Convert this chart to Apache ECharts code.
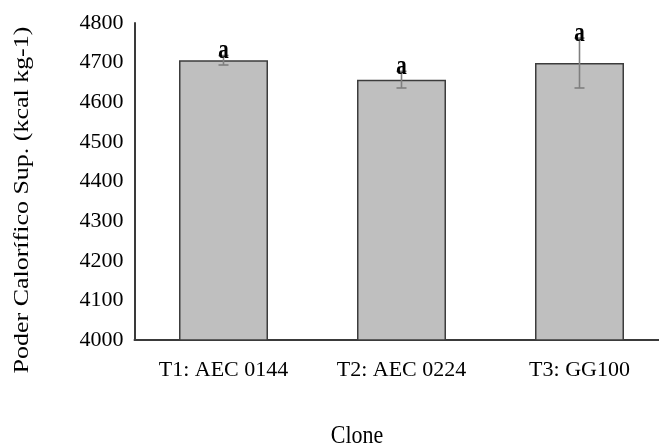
<!DOCTYPE html>
<html>
<head>
<meta charset="utf-8">
<script src="https://cdn.jsdelivr.net/npm/echarts@6/dist/echarts.min.js"></script>
<style>
  html, body { margin: 0; padding: 0; background: #fff; }
  #chart { width: 659px; height: 447px; }
</style>
</head>
<body>
<div id="chart"></div>
<script>
// Higher heating value per clone, with standard error and Tukey group letters
const categories = ['T1: AEC 0144', 'T2: AEC 0224', 'T3: GG100'];
const means = [4706, 4657, 4699];
const errors = [12, 21, 63];
const letters = ['a', 'a', 'a'];
const yTicks = { min: 4000, max: 4800, interval: 100 };

const serif = '"Liberation Serif", "Times New Roman", serif';

const chart = echarts.init(document.getElementById('chart'));

const errorData = means.map((m, i) => [i, m, errors[i]]);

chart.setOption({
  animation: false,
  backgroundColor: '#ffffff',
  grid: {
    left: 134.5, top: 23, width: 534, bottom: 107,
    containLabel: false,
    outerBoundsMode: 'none'
  },
  xAxis: {
    type: 'category',
    data: categories,
    axisLine: { lineStyle: { color: '#3a3a3a', width: 2 } },
    axisTick: { show: false },
    axisLabel: { color: '#000', fontFamily: serif, fontSize: 22, margin: 19 }
  },
  yAxis: {
    type: 'value',
    min: yTicks.min,
    max: yTicks.max,
    interval: yTicks.interval,
    axisLine: { show: true, lineStyle: { color: '#3a3a3a', width: 2 } },
    axisTick: { show: false },
    splitLine: { show: false },
    axisLabel: {
      color: '#000', fontFamily: serif, fontSize: 22, margin: 11,
      formatter: (v) => String(v)
    }
  },
  series: [
    {
      type: 'bar',
      data: means,
      barWidth: '50%',
      itemStyle: { color: '#bfbfbf', borderColor: '#3c3c3c', borderWidth: 1.5 }
    },
    {
      type: 'custom',
      data: errorData,
      z: 10,
      clip: false,
      renderItem: function (params, api) {
        const i = api.value(0);
        const m = api.value(1);
        const e = api.value(2);
        const hi = api.coord([i, m + e]);
        const lo = api.coord([i, m - e]);
        const half = 5;
        const stroke = { stroke: '#7f7f7f', lineWidth: 1.6 };
        return {
          type: 'group',
          children: [
            { type: 'line', shape: { x1: hi[0], y1: hi[1], x2: lo[0], y2: lo[1] }, style: stroke },
            { type: 'line', shape: { x1: hi[0] - half, y1: hi[1], x2: hi[0] + half, y2: hi[1] }, style: stroke },
            { type: 'line', shape: { x1: lo[0] - half, y1: lo[1], x2: lo[0] + half, y2: lo[1] }, style: stroke },
            {
              type: 'text',
              x: hi[0], y: hi[1] - 4,
              scaleY: 1.25,
              style: {
                x: 0, y: 0,
                text: letters[params.dataIndex],
                fill: '#000',
                font: 'bold 21px ' + serif,
                align: 'center',
                verticalAlign: 'middle'
              }
            }
          ]
        };
      }
    }
  ],
  graphic: [
    {
      type: 'text',
      x: 22, y: 200,
      rotation: Math.PI / 2,
      scaleX: 1.18,
      style: {
        text: 'Poder Calorífico Sup. (kcal kg-1)',
        font: '22px ' + serif,
        fill: '#000',
        align: 'center',
        verticalAlign: 'middle'
      }
    },
    {
      type: 'text',
      x: 357, y: 436,
      scaleY: 1.15,
      style: {
        text: 'Clone',
        font: '22px ' + serif,
        fill: '#000',
        align: 'center',
        verticalAlign: 'middle'
      }
    }
  ]
});
</script>
</body>
</html>
